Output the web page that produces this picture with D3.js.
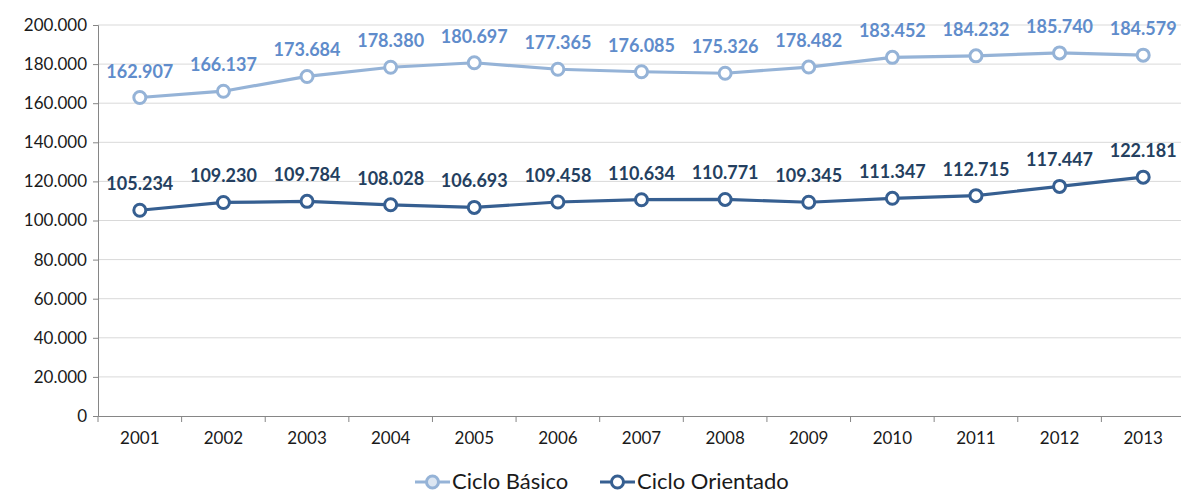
<!DOCTYPE html>
<html>
<head>
<meta charset="utf-8">
<script src="https://cdn.jsdelivr.net/npm/d3@7"></script>
<style>
  body { margin: 0; background: #fff; }
  svg { display: block; font-family: Lato, "Open Sans", sans-serif; }
</style>
</head>
<body>
<div id="vis"></div>
<script>
const years = ["2001","2002","2003","2004","2005","2006","2007","2008","2009","2010","2011","2012","2013"];
const basico = [162907,166137,173684,178380,180697,177365,176085,175326,178482,183452,184232,185740,184579];
const orientado = [105234,109230,109784,108028,106693,109458,110634,110771,109345,111347,112715,117447,122181];
const yTicks = [0,20000,40000,60000,80000,100000,120000,140000,160000,180000,200000];

const W = 1181, H = 494;
const margin = {top: 25, right: -4, bottom: 78, left: 98};
const width = W - margin.left - margin.right;
const height = H - margin.top - margin.bottom;

const series = [
  {name: "Ciclo Básico", values: basico, line: "#95b3d7", label: "#5f8ccb"},
  {name: "Ciclo Orientado", values: orientado, line: "#365f91", label: "#243f60"}
];

const fmt = v => d3.format(",")(v).replace(/,/g, ".");

const svg = d3.select("#vis").append("svg")
  .attr("width", W).attr("height", H)
  .append("g")
  .attr("transform", `translate(${margin.left},${margin.top})`);

const xScale = d3.scaleBand().domain(years).range([0, width]);
const yScale = d3.scaleLinear().domain([0, 200000]).range([height, 0]);

// grid
svg.append("g")
  .selectAll("line")
  .data(yTicks.filter(d => d > 0))
  .join("line")
  .attr("x1", 0).attr("x2", width)
  .attr("y1", d => yScale(d)).attr("y2", d => yScale(d))
  .attr("stroke", "#d9d9d9").attr("stroke-width", 1);

// y axis
const yAxis = svg.append("g")
  .call(d3.axisLeft(yScale).tickValues(yTicks).tickFormat(d => d === 0 ? "0" : fmt(d)).tickSize(5).tickPadding(6))
  .attr("font-family", "Lato, sans-serif")
  .attr("font-size", 17);
yAxis.select(".domain").attr("stroke", "#868686");
yAxis.selectAll(".tick line").attr("stroke", "#868686");
yAxis.selectAll("text").attr("fill", "#1a1a1a");

// x axis
const xAxis = svg.append("g")
  .attr("transform", `translate(0,${height})`)
  .call(d3.axisBottom(xScale).tickSize(0).tickPadding(16))
  .attr("font-family", "Lato, sans-serif")
  .attr("font-size", 17);
xAxis.select(".domain").attr("stroke", "#868686");
xAxis.selectAll("text").attr("fill", "#1a1a1a");
// band boundary ticks
xAxis.append("g").selectAll("line")
  .data(years)
  .join("line")
  .attr("x1", d => xScale(d)).attr("x2", d => xScale(d))
  .attr("y1", 0).attr("y2", 6)
  .attr("stroke", "#868686");

const lineGen = d3.line()
  .x((d, i) => xScale(years[i]) + xScale.bandwidth() / 2)
  .y(d => yScale(d));

series.forEach(s => {
  svg.append("path")
    .datum(s.values)
    .attr("fill", "none")
    .attr("stroke", s.line)
    .attr("stroke-width", 3.2)
    .attr("d", lineGen);

  svg.append("g").selectAll("circle")
    .data(s.values)
    .join("circle")
    .attr("cx", (d, i) => xScale(years[i]) + xScale.bandwidth() / 2)
    .attr("cy", d => yScale(d))
    .attr("r", 6)
    .attr("fill", "#fff")
    .attr("stroke", s.line)
    .attr("stroke-width", 3);

  svg.append("g").selectAll("text")
    .data(s.values)
    .join("text")
    .attr("x", (d, i) => xScale(years[i]) + xScale.bandwidth() / 2)
    .attr("y", d => yScale(d) - 20)
    .attr("text-anchor", "middle")
    .attr("fill", s.label)
    .style("font-size", "18px")
    .style("font-weight", "bold")
    .text(d => fmt(d));
});

// legend
const legend = d3.select("#vis svg").append("g")
  .attr("transform", `translate(415, 482)`);
const items = legend.selectAll("g")
  .data(series)
  .join("g")
  .attr("transform", (d, i) => `translate(${i * 185}, 0)`);
items.append("line")
  .attr("x1", 0).attr("x2", 35).attr("y1", 0).attr("y2", 0)
  .attr("stroke", d => d.line).attr("stroke-width", 3.2);
items.append("circle")
  .attr("cx", 17.5).attr("cy", 0).attr("r", 6)
  .attr("fill", d => d.name === "Ciclo Básico" ? "#dce6f2" : "#fff")
  .attr("stroke", d => d.line).attr("stroke-width", 3);
items.append("text")
  .attr("x", 37).attr("y", 7)
  .attr("fill", "#1a1a1a")
  .style("font-size", "22px")
  .text(d => d.name);
</script>
</body>
</html>
